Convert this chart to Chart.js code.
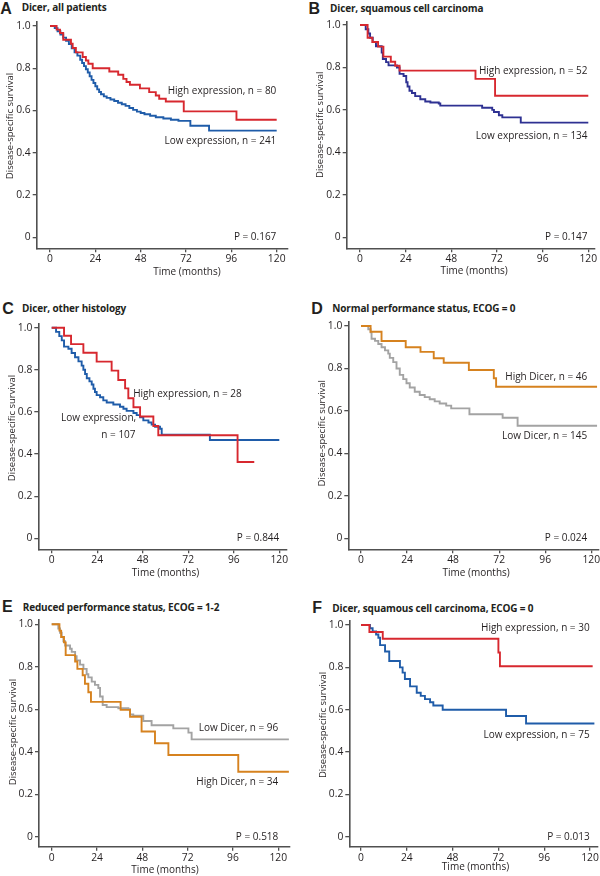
<!DOCTYPE html>
<html><head><meta charset="utf-8">
<script src="https://cdn.jsdelivr.net/npm/chart.js@4.4.1/dist/chart.umd.min.js"></script>
<style>
html,body{margin:0;padding:0;background:#fff}
body{width:600px;height:876px;position:relative;overflow:hidden;color:#231f20}
.lt{position:absolute;font-family:'Liberation Sans',Arial,sans-serif;font-weight:bold;font-size:16px;line-height:1;white-space:nowrap}
.tt{position:absolute;font-family:'Open Sans',sans-serif;font-weight:bold;font-size:10px;line-height:1;white-space:nowrap;letter-spacing:-0.15px}
canvas{position:absolute}
</style></head><body>
<script>
// ---------- tick labels ----------
const xTicks = [0, 24, 48, 72, 96, 120];
const yTicks = [0, 0.2, 0.4, 0.6, 0.8, 1.0];

// ---------- A: Dicer, all patients ----------
const aHighT = [0, 3.5, 5.3, 7.0, 11.1, 12.0, 13.7, 17.3, 19.0, 20.3, 22.6, 31.4, 36.1, 38.8, 40.5, 42.3, 47.6, 52.5, 56.0, 57.8, 61.3, 70.8, 98.7, 120];
const aHighS = [1, 0.983, 0.967, 0.935, 0.916, 0.896, 0.875, 0.853, 0.837, 0.821, 0.80, 0.785, 0.769, 0.75, 0.735, 0.722, 0.705, 0.687, 0.671, 0.656, 0.643, 0.596, 0.556, 0.556];
const aLowT = [0, 2.5, 4.0, 5.5, 7.0, 8.5, 10.0, 11.5, 13.0, 14.5, 16.0, 17.0, 18.0, 19.0, 20.0, 21.0, 22.0, 23.0, 24.0, 25.0, 26.0, 27.0, 28.5, 30.0, 32.0, 34.0, 36.0, 38.0, 40.0, 42.0, 44.0, 46.0, 48.0, 50.0, 53.0, 56.0, 60.0, 64.0, 68.0, 74.3, 84.2, 120];
const aLowS = [1, 0.99, 0.975, 0.96, 0.945, 0.93, 0.915, 0.895, 0.875, 0.86, 0.84, 0.825, 0.81, 0.795, 0.78, 0.762, 0.745, 0.73, 0.715, 0.70, 0.688, 0.677, 0.667, 0.66, 0.652, 0.645, 0.637, 0.63, 0.622, 0.612, 0.603, 0.595, 0.588, 0.582, 0.575, 0.568, 0.562, 0.556, 0.551, 0.528, 0.505, 0.505];

// ---------- B: Dicer, squamous cell carcinoma ----------
const bHighT = [0, 4.0, 6.5, 9.5, 12.3, 16.2, 18.5, 20.8, 60.7, 71.0, 120];
const bHighS = [1, 0.94, 0.92, 0.898, 0.851, 0.827, 0.808, 0.785, 0.746, 0.667, 0.667];
const bLowT = [0, 3.0, 4.4, 5.3, 6.7, 8.4, 11.4, 12.0, 13.7, 15.0, 19.4, 20.8, 22.9, 24.3, 25.0, 26.0, 27.3, 29.0, 31.7, 34.3, 37.0, 41.4, 42.2, 64.2, 69.5, 70.4, 73.0, 74.8, 84.5, 120];
const bLowS = [1, 0.98, 0.96, 0.94, 0.92, 0.90, 0.87, 0.84, 0.825, 0.81, 0.80, 0.77, 0.76, 0.73, 0.71, 0.69, 0.68, 0.665, 0.65, 0.64, 0.635, 0.63, 0.62, 0.61, 0.60, 0.59, 0.575, 0.565, 0.54, 0.54];

// ---------- C: Dicer, other histology ----------
const cHighT = [0, 6.5, 10.2, 16.7, 23.7, 31.6, 35.1, 38.7, 40.4, 43.1, 46.6, 53.6, 56.2, 98.0, 106.8];
const cHighS = [1, 0.962, 0.922, 0.881, 0.839, 0.796, 0.752, 0.712, 0.665, 0.622, 0.578, 0.533, 0.489, 0.362, 0.362];
const cLowT = [0, 2.3, 4.0, 5.3, 6.5, 8.8, 10.5, 12.3, 14.1, 15.8, 16.7, 17.6, 18.5, 19.9, 21.1, 22.0, 22.8, 23.7, 25.5, 27.2, 29.0, 32.5, 36.0, 37.8, 39.5, 43.1, 44.8, 46.6, 48.3, 51.0, 52.7, 54.5, 57.1, 58.0, 83.4, 120];
const cLowS = [1, 0.98, 0.96, 0.94, 0.91, 0.90, 0.88, 0.86, 0.84, 0.82, 0.80, 0.78, 0.76, 0.745, 0.73, 0.71, 0.695, 0.68, 0.67, 0.655, 0.645, 0.635, 0.625, 0.615, 0.605, 0.595, 0.585, 0.575, 0.56, 0.55, 0.54, 0.53, 0.52, 0.492, 0.467, 0.467];

// ---------- D: Normal performance status, ECOG = 0 ----------
const dHighT = [0, 5.0, 10.7, 23.3, 31.0, 37.9, 43.1, 56.2, 69.2, 70.4, 123];
const dHighS = [1, 0.973, 0.929, 0.90, 0.878, 0.848, 0.827, 0.793, 0.754, 0.714, 0.714];
const dLowT = [0, 3.8, 5.0, 5.5, 7.3, 9.0, 10.7, 12.5, 14.2, 15.0, 16.8, 18.5, 20.2, 22.0, 23.7, 25.4, 28.0, 30.6, 33.2, 35.8, 38.4, 41.0, 44.4, 47.0, 56.5, 73.8, 81.6, 123];
const dLowS = [1, 0.985, 0.97, 0.94, 0.93, 0.915, 0.90, 0.885, 0.87, 0.85, 0.83, 0.80, 0.77, 0.75, 0.73, 0.71, 0.69, 0.675, 0.665, 0.655, 0.645, 0.635, 0.625, 0.612, 0.584, 0.568, 0.53, 0.53];

// ---------- E: Reduced performance status, ECOG = 1-2 ----------
const eHighT = [0, 4.1, 5.0, 6.5, 7.4, 12.4, 13.6, 16.4, 17.6, 19.4, 20.8, 36.5, 41.5, 47.6, 54.7, 61.8, 98.8, 125.6];
const eHighS = [1, 0.97, 0.94, 0.915, 0.855, 0.825, 0.79, 0.76, 0.72, 0.68, 0.635, 0.597, 0.565, 0.495, 0.44, 0.385, 0.306, 0.306];
const eLowT = [0, 3.5, 4.4, 5.3, 6.2, 7.1, 9.7, 10.6, 12.4, 13.2, 15.0, 16.8, 18.5, 19.4, 21.2, 22.9, 24.7, 25.6, 27.0, 29.1, 35.3, 40.6, 41.5, 43.2, 48.5, 52.9, 64.4, 72.4, 74.1, 125.6];
const eLowS = [1, 0.98, 0.96, 0.94, 0.92, 0.90, 0.885, 0.87, 0.85, 0.83, 0.81, 0.79, 0.765, 0.75, 0.73, 0.715, 0.70, 0.66, 0.62, 0.61, 0.605, 0.60, 0.575, 0.57, 0.545, 0.525, 0.51, 0.49, 0.458, 0.458];

// ---------- F: Dicer, squamous cell carcinoma, ECOG = 0 ----------
const fHighT = [0, 4.4, 11.4, 72.0, 72.8, 121.4];
const fHighS = [1, 0.967, 0.935, 0.87, 0.805, 0.805];
const fLowT = [0, 4.7, 6.1, 7.9, 9.1, 10.0, 12.6, 14.8, 20.4, 21.8, 23.0, 25.7, 29.2, 31.3, 33.5, 36.2, 37.9, 42.8, 76.0, 86.5, 122.3];
const fLowS = [1, 0.985, 0.97, 0.955, 0.94, 0.905, 0.875, 0.83, 0.80, 0.775, 0.745, 0.71, 0.68, 0.665, 0.65, 0.635, 0.62, 0.60, 0.57, 0.535, 0.535];

// ---------- texts ----------
const panelLetters = ['A', 'B', 'C', 'D', 'E', 'F'];
const panelTitles = ['Dicer, all patients', 'Dicer, squamous cell carcinoma', 'Dicer, other histology',
  'Normal performance status, ECOG = 0', 'Reduced performance status, ECOG = 1-2', 'Dicer, squamous cell carcinoma, ECOG = 0'];
const pValues = ['P = 0.167', 'P = 0.147', 'P = 0.844', 'P = 0.024', 'P = 0.518', 'P = 0.013'];
const xTitle = 'Time (months)';
const yTitle = 'Disease-specific survival';

const RED = '#d7282f', BLUE = '#1f5ca9', NAVY = '#2e3192', ORANGE = '#d6821f', GRAY = '#a3a3a3';
const INK = '#231f20', AXIS = '#505050';

function pts(T, S) { return T.map((t, i) => ({x: t, y: S[i]})); }

// layout (pixels, local to each panel canvas) and label placement
const panels = [
  {cx: 0, cy: 0, h: 290, px0: 50, px120: 276.7, py1: 26, py0: 237.3, axL: 36.7, axB: 248.3, axT: 21.7, axR: 287.3,
   ltop: [0.8, 2.2], lleft: [0.3, 21.7], xtY: 272, xtT: 72.5, ytS: 0.527,
   series: [[aHighT, aHighS, RED], [aLowT, aLowS, BLUE]],
   labels: [['High expression, n = 80', 119.8, 0.692], ['Low expression, n = 241', 119.8, 0.456], [null, 119.8, 0.0]]},
  {cx: 300, cy: 0, h: 290, px0: 60, px120: 288.3, py1: 25, py0: 237.3, axL: 46.7, axB: 248.3, axT: 21.7, axR: 295,
   ltop: [0.8, 3.3], lleft: [8.6, 30], xtY: 270.7, xtT: 60, ytS: 0.53,
   series: [[bHighT, bHighS, RED], [bLowT, bLowS, NAVY]],
   labels: [['High expression, n = 52', 119.6, 0.784], ['Low expression, n = 134', 119.6, 0.476], [null, 119.6, 0.0]]},
  {cx: 0, cy: 290, h: 290, px0: 51.7, px120: 279.3, py1: 37.7, py0: 248.3, axL: 38.3, axB: 259.3, axT: 33.5, axR: 287,
   ltop: [10.8, 13.1], lleft: [2.3, 22], xtY: 283.3, xtT: 60, ytS: 0.524,
   series: [[cHighT, cHighS, RED], [cLowT, cLowS, BLUE]],
   labels: [['High expression, n = 28', 100.2, 0.685], ['Low expression,', 44.5, 0.57], ['n = 107', 44.2, 0.49], [null, 120, 0.0]]},
  {cx: 300, cy: 290, h: 290, px0: 61, px120: 291.3, py1: 36, py0: 248.3, axL: 48.3, axB: 259.3, axT: 32, axR: 299,
   ltop: [10.8, 13.1], lleft: [11.3, 32.3], xtY: 283.3, xtT: 60, ytS: 0.495,
   series: [[dHighT, dHighS, ORANGE], [dLowT, dLowS, GRAY]],
   labels: [['High Dicer, n = 46', 117.9, 0.758], ['Low Dicer, n = 145', 117.9, 0.483], [null, 117.9, 0.0]]},
  {cx: 0, cy: 580, h: 296, px0: 51.7, px120: 278.3, py1: 44.3, py0: 256.7, axL: 39, axB: 266.7, axT: 40, axR: 289.3,
   ltop: [19.1, 22.1], lleft: [2.0, 22.7], xtY: 290, xtT: 60, ytS: 0.493,
   series: [[eHighT, eHighS, ORANGE], [eLowT, eLowS, GRAY]],
   labels: [['Low Dicer, n = 96', 120, 0.513], ['High Dicer, n = 34', 120, 0.256], [null, 120, 0.0]]},
  {cx: 300, cy: 580, h: 296, px0: 61, px120: 290, py1: 45, py0: 256.7, axL: 49.3, axB: 266.7, axT: 40.7, axR: 297.3,
   ltop: [19.5, 23.1], lleft: [12.3, 32.3], xtY: 287.3, xtT: 60, ytS: 0.528,
   series: [[fHighT, fHighS, RED], [fLowT, fLowS, BLUE]],
   labels: [['High expression, n = 30', 119.8, 0.984], ['Low expression, n = 75', 119.8, 0.48], [null, 119.8, 0.0]]}
];

const textPlugin = {
  id: 'panelText',
  afterDraw(chart, args, o) {
    const {ctx} = chart, xs = chart.scales.x, ys = chart.scales.y;
    ctx.save();
    ctx.fillStyle = INK;
    ctx.font = "10px 'Open Sans'";
    ctx.textAlign = 'right';
    ctx.textBaseline = 'middle';
    o.labels.forEach(l => {
      ctx.fillText(l[0] === null ? o.p : l[0], xs.getPixelForValue(l[1]), ys.getPixelForValue(l[2]));
    });
    ctx.textAlign = 'center';
    ctx.fillText(xTitle, xs.getPixelForValue(o.xtT), o.xtY);
    ctx.translate(o.axL - 26, ys.getPixelForValue(o.ytS));
    ctx.rotate(-Math.PI / 2);
    ctx.font = "9.5px 'Open Sans'";
    ctx.fillText(yTitle, 0, 0);
    ctx.restore();
  }
};

const YW = 34, XH = 20;

panels.forEach((p, i) => {
  const lt = document.createElement('div');
  lt.className = 'lt'; lt.textContent = panelLetters[i];
  lt.style.left = (p.cx + p.lleft[0]) + 'px'; lt.style.top = (p.cy + p.ltop[0]) + 'px';
  document.body.appendChild(lt);
  const tt = document.createElement('div');
  tt.className = 'tt'; tt.textContent = panelTitles[i];
  tt.style.left = (p.cx + p.lleft[1]) + 'px'; tt.style.top = (p.cy + p.ltop[1]) + 'px';
  document.body.appendChild(tt);

  const cv = document.createElement('canvas');
  cv.width = 300; cv.height = p.h;
  cv.style.left = p.cx + 'px'; cv.style.top = p.cy + 'px';
  cv.style.width = '300px'; cv.style.height = p.h + 'px';
  document.body.appendChild(cv);

  const kx = (p.px120 - p.px0) / 120, ky = (p.py0 - p.py1);
  const xmin = (p.axL - p.px0) / kx, xmax = (p.axR - p.px0) / kx;
  const ymin = -(p.axB - p.py0) / ky, ymax = (p.py0 - p.axT) / ky;

  const tickFont = {family: "'Open Sans'", size: 10.3};
  const common = {
    grid: {display: true, drawOnChartArea: false, drawTicks: true, tickLength: 4, color: AXIS, lineWidth: 1.3},
    border: {display: true, color: AXIS, width: 1.6}
  };

  new Chart(cv, {
    type: 'line',
    data: {
      datasets: p.series.map(s => ({
        data: pts(s[0], s[1]), borderColor: s[2], backgroundColor: s[2],
        borderWidth: 1.9, pointRadius: 0, stepped: true, fill: false, tension: 0
      }))
    },
    options: {
      responsive: false, animation: false, devicePixelRatio: 1,
      layout: {padding: {left: p.axL - YW, right: 300 - p.axR, top: p.axT, bottom: p.h - p.axB - XH}},
      plugins: {legend: {display: false}, tooltip: {enabled: false}, title: {display: false},
        panelText: {labels: p.labels, p: pValues[i], xtT: p.xtT, xtY: p.xtY, ytS: p.ytS, axL: p.axL}},
      scales: {
        x: Object.assign({}, common, {
          type: 'linear', min: xmin, max: xmax,
          afterBuildTicks: s => { s.ticks = xTicks.map(v => ({value: v})); },
          afterFit: s => { s.height = XH; s.paddingLeft = 0; s.paddingRight = 0; s.paddingTop = 0; s.paddingBottom = 0; },
          ticks: {font: tickFont, color: INK, padding: 1, autoSkip: false, maxRotation: 0, callback: v => String(v)}
        }),
        y: Object.assign({}, common, {
          type: 'linear', min: ymin, max: ymax,
          afterBuildTicks: s => { s.ticks = yTicks.map(v => ({value: v})); },
          afterFit: s => { s.width = YW; s.paddingLeft = 0; s.paddingRight = 0; s.paddingTop = 0; s.paddingBottom = 0; },
          ticks: {font: tickFont, color: INK, padding: 2, callback: v => (v === 0 ? '0' : v.toFixed(1))}
        })
      }
    },
    plugins: [textPlugin]
  });
});
</script>
</body></html>
